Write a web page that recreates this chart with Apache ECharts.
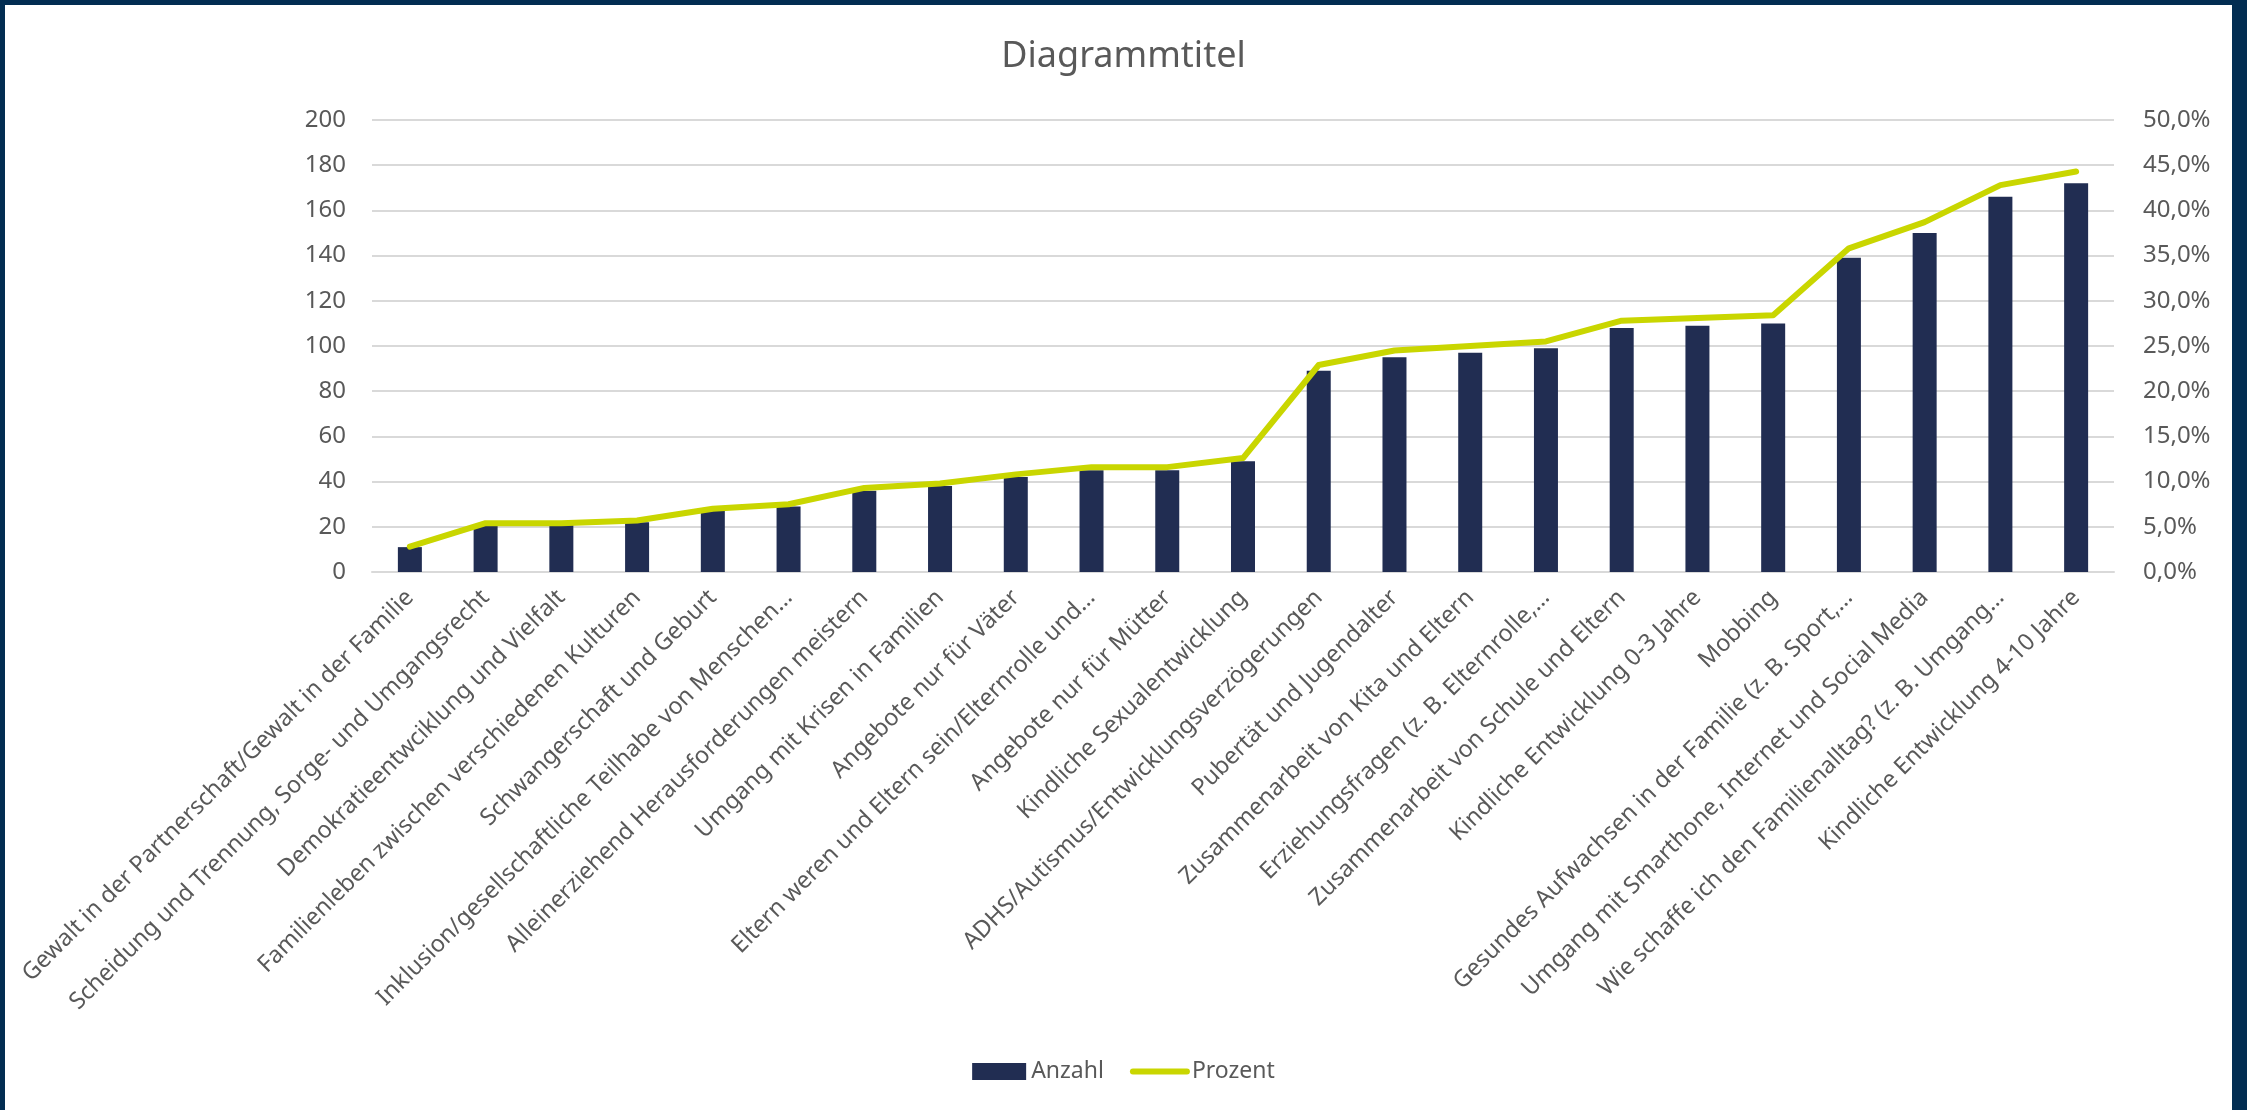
<!DOCTYPE html>
<html>
<head>
<meta charset="utf-8">
<script src="https://cdn.jsdelivr.net/npm/echarts@6/dist/echarts.min.js"></script>
<style>
  html, body { margin: 0; padding: 0; background: #ffffff; }
  #chart { position: absolute; left: 0; top: 0; width: 2247px; height: 1110px; }
  .frame { position: absolute; background: #022D52; z-index: 10; }
</style>
</head>
<body>
<div id="chart"></div>
<div class="frame" style="left:0;top:0;width:2247px;height:5px;"></div>
<div class="frame" style="left:0;top:0;width:5px;height:1110px;"></div>
<div class="frame" style="left:2232px;top:0;width:15px;height:1110px;"></div>
<script>
const categories = [
  "Gewalt in der Partnerschaft/Gewalt in der Familie",
  "Scheidung und Trennung, Sorge- und Umgangsrecht",
  "Demokratieentwciklung und Vielfalt",
  "Familienleben zwischen verschiedenen Kulturen",
  "Schwangerschaft und Geburt",
  "Inklusion/gesellschaftliche Teilhabe von Menschen…",
  "Alleinerziehend Herausforderungen meistern",
  "Umgang mit Krisen in Familien",
  "Angebote nur für Väter",
  "Eltern weren und Eltern sein/Elternrolle und…",
  "Angebote nur für Mütter",
  "Kindliche Sexualentwicklung",
  "ADHS/Autismus/Entwicklungsverzögerungen",
  "Pubertät und Jugendalter",
  "Zusammenarbeit von Kita und Eltern",
  "Erziehungsfragen (z. B. Elternrolle,…",
  "Zusammenarbeit von Schule und Eltern",
  "Kindliche Entwicklung 0-3 Jahre",
  "Mobbing",
  "Gesundes Aufwachsen in der Familie (z. B. Sport,…",
  "Umgang mit Smarthone, Internet und Social Media",
  "Wie schaffe ich den Familienalltag? (z. B. Umgang…",
  "Kindliche Entwicklung 4-10 Jahre"
];
const anzahl = [11, 21, 21, 22, 27, 29, 36, 38, 42, 45, 45, 49, 89, 95, 97, 99, 108, 109, 110, 139, 150, 166, 172];
const prozent = [2.8, 5.4, 5.4, 5.7, 7.0, 7.5, 9.3, 9.8, 10.8, 11.6, 11.6, 12.6, 22.9, 24.5, 25.0, 25.5, 27.8, 28.1, 28.4, 35.8, 38.7, 42.8, 44.3];
const leftTicks = { min: 0, max: 200, interval: 20 };
const rightTicks = { min: 0, max: 50, interval: 5 };

const textColor = '#595959';
const font = '"Noto Sans", "Open Sans", sans-serif';

const chart = echarts.init(document.getElementById('chart'), null, { renderer: 'canvas' });
chart.setOption({
  backgroundColor: '#ffffff',
  animation: false,
  title: {
    text: 'Diagrammtitel',
    left: 'center',
    top: 34,
    textStyle: { color: textColor, fontSize: 36, fontWeight: 'normal', fontFamily: font }
  },
  legend: {
    bottom: 22,
    left: 'center',
    itemWidth: 54,
    itemHeight: 17,
    itemGap: 26,
    textStyle: { color: textColor, fontSize: 23, fontFamily: font },
    data: [
      { name: 'Anzahl', icon: 'rect' },
      { name: 'Prozent', itemStyle: { opacity: 0 }, lineStyle: { width: 6, cap: 'round' } }
    ]
  },
  grid: { left: 372, right: 133, top: 120, bottom: 538, containLabel: false },
  xAxis: {
    type: 'category',
    data: categories,
    axisLine: { show: true, lineStyle: { color: '#D9D9D9', width: 2 } },
    axisTick: { show: false },
    axisLabel: {
      interval: 0,
      rotate: 45,
      margin: 22,
      color: textColor,
      fontSize: 23.5,
      fontFamily: font
    }
  },
  yAxis: [
    {
      type: 'value',
      min: leftTicks.min, max: leftTicks.max, interval: leftTicks.interval,
      axisLine: { show: false },
      axisTick: { show: false },
      splitLine: { lineStyle: { color: '#D9D9D9', width: 2 } },
      axisLabel: { color: textColor, fontSize: 24, fontFamily: font, margin: 26 }
    },
    {
      type: 'value',
      min: rightTicks.min, max: rightTicks.max, interval: rightTicks.interval,
      axisLine: { show: false },
      axisTick: { show: false },
      splitLine: { show: false },
      axisLabel: {
        color: textColor, fontSize: 24, fontFamily: font, margin: 29,
        formatter: v => v.toFixed(1).replace('.', ',') + '%'
      }
    }
  ],
  series: [
    {
      name: 'Anzahl',
      type: 'bar',
      data: anzahl,
      barWidth: 24,
      itemStyle: { color: '#212D52' },
      yAxisIndex: 0
    },
    {
      name: 'Prozent',
      type: 'line',
      data: prozent,
      yAxisIndex: 1,
      symbol: 'none',
      showSymbol: false,
      lineStyle: { color: '#C9D600', width: 6, cap: 'round', join: 'round' },
      itemStyle: { color: '#C9D600' }
    }
  ]
});
</script>
</body>
</html>
